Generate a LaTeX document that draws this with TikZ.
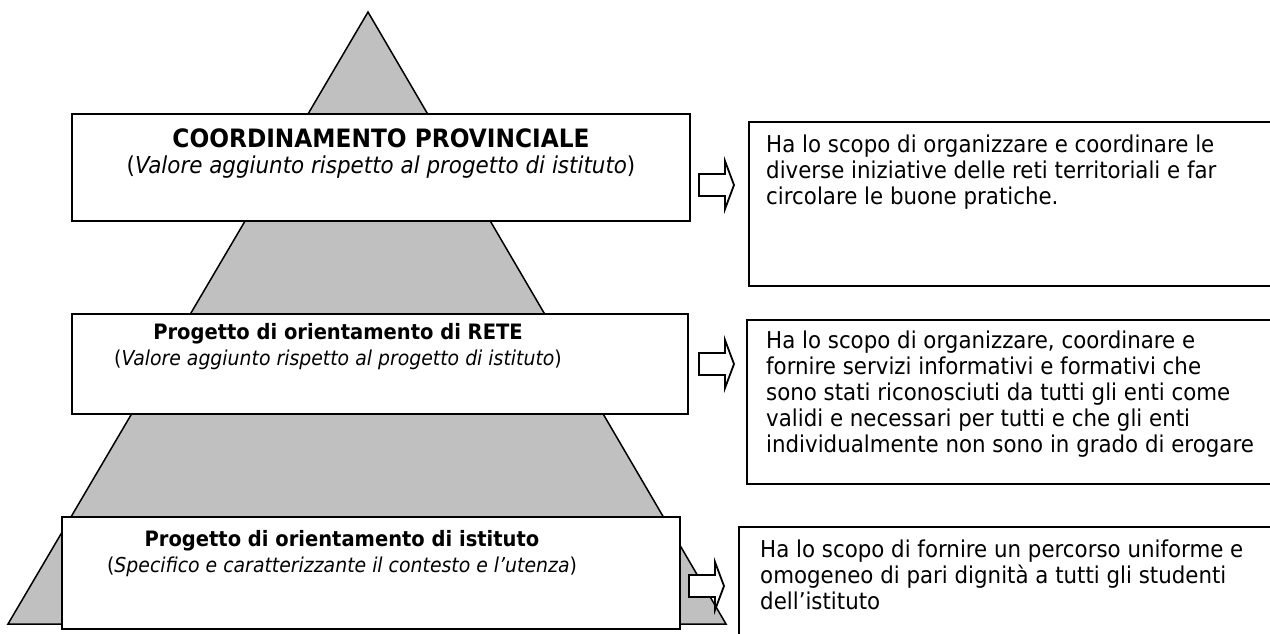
\documentclass[tikz,border=0pt]{standalone}
\usepackage{fontspec}
\setmainfont{DejaVu Sans}[FakeStretch=0.92]
\definecolor{trigray}{HTML}{C0C0C0}
\begin{document}
\begin{tikzpicture}[x=1pt,y=-1pt,
  box/.style={draw=black,fill=white,line width=2pt,inner sep=0pt},
  barrow/.style={draw=black,fill=white,line width=1.8pt,line join=miter},
  txtA/.style={inner sep=0pt,font=\fontsize{23.3}{28}\selectfont},
  ttlA/.style={inner sep=0pt,font=\fontsize{25.3}{30}\selectfont\bfseries},
  txt/.style={inner sep=0pt,font=\fontsize{20.5}{26}\selectfont},
  ttl/.style={inner sep=0pt,font=\fontsize{21.2}{28}\selectfont\bfseries},
  body/.style={inner sep=0pt,align=left,anchor=north west,font=\fontsize{23.2}{26}\selectfont},
  blockarrow/.pic={\draw[barrow] (0,-11) -- (26,-11) -- (26,-24) -- (35,0) -- (26,24) -- (26,11) -- (0,11) -- cycle;}
]
\useasboundingbox (0,0) rectangle (1270,633);
\clip (0,0) rectangle (1270,633);
\fill[white] (0,0) rectangle (1270,633);

% pyramid
\coordinate (apex) at (368,12);
\coordinate (bl) at (8,624);
\coordinate (br) at (726,624);
\draw[fill=trigray,line width=1.5pt,line join=miter] (apex) -- (br) -- (bl) -- cycle;

% left boxes
\node[box,minimum width=618pt,minimum height=107pt] (b1) at (381,167) {};
\node[box,minimum width=616pt,minimum height=100pt] (b2) at (380,364) {};
\node[box,minimum width=618pt,minimum height=112pt] (b3) at (371,573) {};

\node[ttlA,anchor=base] (t1) at (381,147) {COORDINAMENTO PROVINCIALE};
\node[txtA,anchor=base] (s1) at (381,173) {(\textit{Valore aggiunto rispetto al progetto di istituto})};

\node[ttl,anchor=base] (t2) at (338,339) {Progetto di orientamento di RETE};
\node[txt,anchor=base] (s2) at (338,365) {(\textit{Valore aggiunto rispetto al progetto di istituto})};

\node[ttl,anchor=base] (t3) at (342,546) {Progetto di orientamento di istituto};
\node[txt,anchor=base] (s3) at (342,572) {(\textit{Specifico e caratterizzante il contesto e l’utenza})};

% arrows
\pic (a1) at (699,185) {blockarrow};
\pic (a2) at (699,364) {blockarrow};
\pic (a3) at (689,586) {blockarrow};

% right boxes
\node[box,anchor=north west,minimum width=560pt,minimum height=164pt] (r1) at (748,121) {};
\node[box,anchor=north west,minimum width=560pt,minimum height=164pt] (r2) at (746,319) {};
\node[box,anchor=north west,minimum width=560pt,minimum height=140pt] (r3) at (738,526) {};

\node[body] (rt1) at (766,135) {Ha lo scopo di organizzare e coordinare le\\diverse iniziative delle reti territoriali e far\\circolare le buone pratiche.};
\node[body] (rt2) at (766,331) {Ha lo scopo di organizzare, coordinare e\\fornire servizi informativi e formativi che\\sono stati riconosciuti da tutti gli enti come\\validi e necessari per tutti e che gli enti\\individualmente non sono in grado di erogare};
\node[body] (rt3) at (760,540) {Ha lo scopo di fornire un percorso uniforme e\\omogeneo di pari dignità a tutti gli studenti\\dell’istituto};
\end{tikzpicture}
\end{document}
